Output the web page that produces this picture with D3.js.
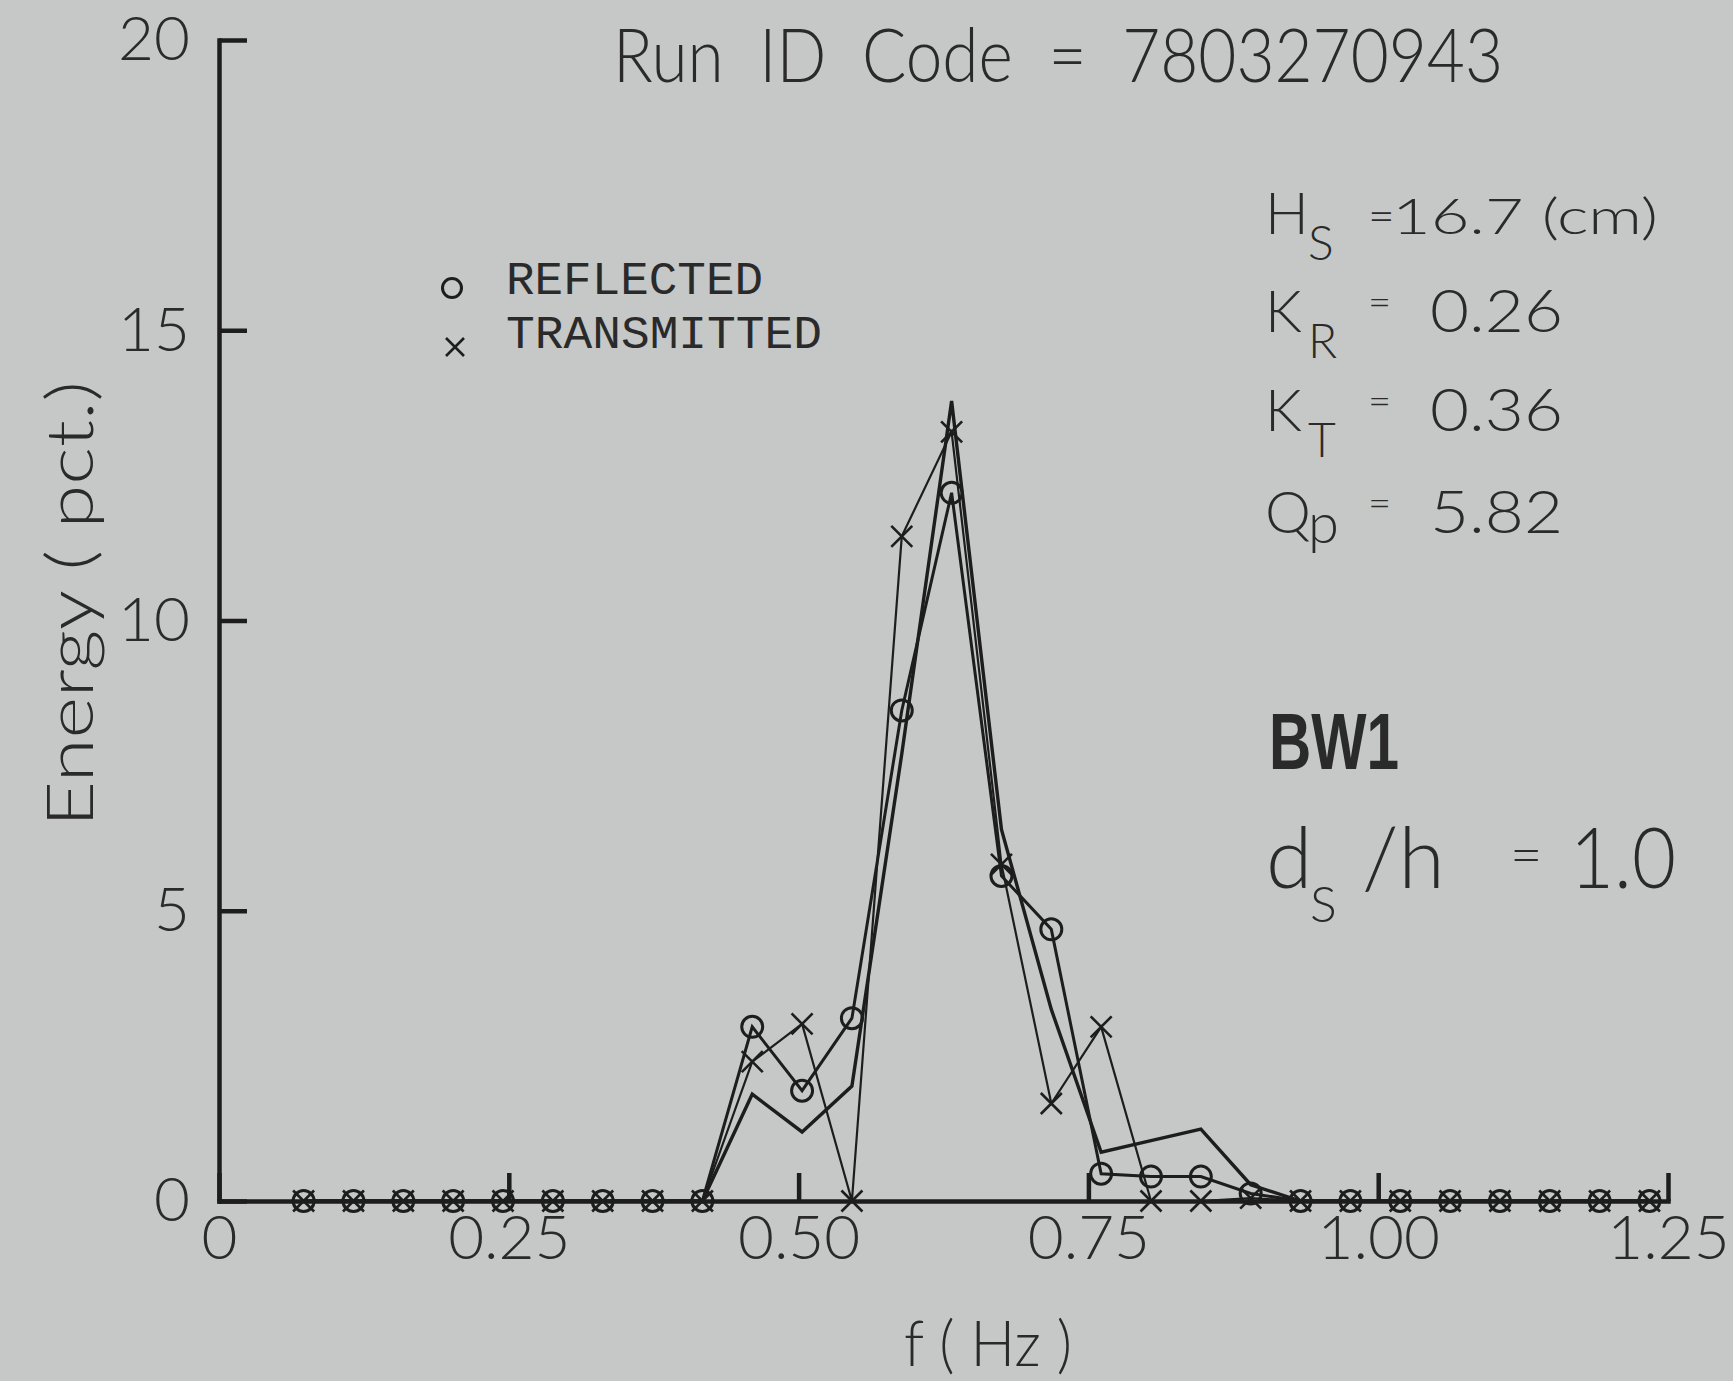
<!DOCTYPE html>
<html>
<head>
<meta charset="utf-8">
<title>Run ID Code 7803270943</title>
<script src="https://cdn.jsdelivr.net/npm/d3@7"></script>
<style>
    body { margin: 0; background: #c5c8c6; }
    svg { display: block; }
    text { fill: #2a2a2a; font-family: Lato, "DejaVu Sans", sans-serif; font-weight: 300; }
    .axis path, .axis line { stroke: #1d1d1d; stroke-width: 4.5; }
    .axis text { font-size: 62px; fill: #2a2a2a; font-family: Lato, "DejaVu Sans", sans-serif; }
    .series { fill: none; stroke: #1d1d1d; stroke-linejoin: miter; }
    .legend text { font-family: "Liberation Mono", "DejaVu Sans Mono", monospace; font-weight: normal; font-size: 46px; }
</style>
</head>
<body>
<script>
var W = 1733, H = 1381;

// spectral frequencies (Hz)
var freq = [0.073, 0.116, 0.159, 0.202, 0.245, 0.288, 0.331, 0.374, 0.417, 0.460,
            0.503, 0.546, 0.589, 0.632, 0.675, 0.718, 0.761, 0.804, 0.847, 0.890,
            0.933, 0.976, 1.019, 1.062, 1.105, 1.148, 1.191, 1.234];

// energy (pct.)
var incident    = [0, 0, 0, 0, 0, 0, 0, 0, 0, 1.84,
                   1.19, 1.98, 7.7, 13.78, 6.4, 3.3, 0.84, 1.04, 1.24, 0.28,
                   0, 0, 0, 0, 0, 0, 0, 0];
var reflected   = [0, 0, 0, 0, 0, 0, 0, 0, 0, 3.0,
                   1.9, 3.15, 8.45, 12.2, 5.6, 4.68, 0.47, 0.42, 0.42, 0.13,
                   0, 0, 0, 0, 0, 0, 0, 0];
var transmitted = [0, 0, 0, 0, 0, 0, 0, 0, 0, 2.4,
                   3.05, 0, 11.45, 13.25, 5.8, 1.68, 3.0, 0, 0, 0.05,
                   0, 0, 0, 0, 0, 0, 0, 0];

var xTicks = [0, 0.25, 0.50, 0.75, 1.00, 1.25];
var xTickLabels = ["0", "0.25", "0.50", "0.75", "1.00", "1.25"];
var yTicks = [0, 5, 10, 15, 20];

var x = d3.scaleLinear().domain([0, 1.25]).range([219, 1668]),
    y = d3.scaleLinear().domain([0, 20]).range([1201, 40]);

var svg = d3.select("body").append("svg")
    .attr("width", W)
    .attr("height", H);

svg.append("rect").attr("width", W).attr("height", H).attr("fill", "#c5c8c6");

// axes, ticks pointing inward
svg.append("g")
    .attr("class", "axis")
    .attr("transform", "translate(0,1201)")
    .call(d3.axisBottom(x)
        .tickValues(xTicks)
        .tickFormat(function (d, i) { return xTickLabels[i]; })
        .tickSizeInner(-28)
        .tickSizeOuter(0)
        .tickPadding(14));

svg.append("g")
    .attr("class", "axis")
    .attr("transform", "translate(219,0)")
    .call(d3.axisLeft(y)
        .tickValues(yTicks)
        .tickFormat(d3.format("d"))
        .tickSizeInner(-28)
        .tickSizeOuter(0)
        .tickPadding(29));

svg.selectAll(".axis .domain").attr("stroke-linecap", "square");

// axis titles
svg.append("text")
    .attr("transform", "translate(93,604) rotate(-90)")
    .attr("text-anchor", "middle")
    .attr("font-size", 66)
    .attr("textLength", 446)
    .attr("lengthAdjust", "spacingAndGlyphs")
    .style("white-space", "pre")
    .text("Energy ( pct.)");

svg.append("text")
    .attr("x", 988)
    .attr("y", 1366)
    .attr("text-anchor", "middle")
    .attr("font-size", 64)
    .attr("textLength", 168)
    .attr("lengthAdjust", "spacingAndGlyphs")
    .style("white-space", "pre")
    .text("f ( Hz )");

// run title
svg.append("text")
    .attr("x", 613)
    .attr("y", 82)
    .attr("font-size", 74)
    .attr("textLength", 890)
    .attr("lengthAdjust", "spacingAndGlyphs")
    .style("white-space", "pre")
    .text("Run  ID  Code  =  7803270943");

// series lines
var line = function (vals) {
    return d3.line()
        .x(function (d, i) { return x(freq[i]); })
        .y(function (d) { return y(d); })(vals);
};

svg.append("path").attr("class", "series").attr("stroke-width", 3.4).attr("d", line(incident));
svg.append("path").attr("class", "series").attr("stroke-width", 3).attr("d", line(reflected));
svg.append("path").attr("class", "series").attr("stroke-width", 2.2).attr("d", line(transmitted));

// markers
var cross = function (s) {
    return "M" + (-s) + "," + (-s) + "L" + s + "," + s + "M" + s + "," + (-s) + "L" + (-s) + "," + s;
};

svg.append("g").selectAll("circle")
    .data(reflected)
    .join("circle")
    .attr("cx", function (d, i) { return x(freq[i]); })
    .attr("cy", function (d) { return y(d); })
    .attr("r", 10.5)
    .attr("fill", "none")
    .attr("stroke", "#1d1d1d")
    .attr("stroke-width", 3);

svg.append("g").selectAll("path")
    .data(transmitted)
    .join("path")
    .attr("transform", function (d, i) { return "translate(" + x(freq[i]) + "," + y(d) + ")"; })
    .attr("d", cross(10.5))
    .attr("fill", "none")
    .attr("stroke", "#1d1d1d")
    .attr("stroke-width", 2.6);

// legend
var legend = svg.append("g").attr("class", "legend");
legend.append("circle")
    .attr("cx", 452).attr("cy", 288).attr("r", 9.5)
    .attr("fill", "none").attr("stroke", "#1d1d1d").attr("stroke-width", 3);
legend.append("path")
    .attr("transform", "translate(455,347)")
    .attr("d", cross(9))
    .attr("fill", "none").attr("stroke", "#1d1d1d").attr("stroke-width", 2.6);
legend.append("text").attr("x", 506).attr("y", 294)
    .attr("textLength", 257).attr("lengthAdjust", "spacingAndGlyphs")
    .text("REFLECTED");
legend.append("text").attr("x", 506).attr("y", 348)
    .attr("textLength", 316).attr("lengthAdjust", "spacingAndGlyphs")
    .text("TRANSMITTED");

// wave parameters
var notes = svg.append("g");
var params = [
    {sym: "H", sub: "S", val: "16.7 (cm)", base: 234},
    {sym: "K", sub: "R", val: "0.26", base: 332},
    {sym: "K", sub: "T", val: "0.36", base: 431},
    {sym: "Q", sub: "p", val: "5.82", base: 533}
];
params.forEach(function (p, i) {
    notes.append("text").attr("x", 1265).attr("y", p.base).attr("font-size", 58).text(p.sym);
    notes.append("text").attr("x", 1308).attr("y", p.base + (p.sub === "p" ? 10 : 26))
        .attr("font-size", p.sub === "p" ? 56 : 48).text(p.sub);
    if (i === 0) {
        notes.append("text").attr("x", 1368).attr("y", p.base - 2).attr("font-size", 46).text("=");
        notes.append("text").attr("x", 1392).attr("y", p.base).attr("font-size", 50)
            .attr("textLength", 266).attr("lengthAdjust", "spacingAndGlyphs")
            .style("white-space", "pre").text(p.val);
    } else {
        notes.append("text").attr("x", 1368).attr("y", p.base - 16).attr("font-size", 40).text("=");
        notes.append("text").attr("x", 1430).attr("y", p.base).attr("font-size", 60)
            .attr("textLength", 133).attr("lengthAdjust", "spacingAndGlyphs").text(p.val);
    }
});

notes.append("text")
    .attr("x", 1269).attr("y", 769)
    .attr("font-size", 80)
    .style("font-family", "'Liberation Sans', Arial, sans-serif")
    .style("font-weight", "bold")
    .attr("textLength", 130).attr("lengthAdjust", "spacingAndGlyphs")
    .text("BW1");

notes.append("text").attr("x", 1266).attr("y", 888).attr("font-size", 84).text("d");
notes.append("text").attr("x", 1310).attr("y", 922).attr("font-size", 50).text("S");
notes.append("text").attr("x", 1362).attr("y", 888).attr("font-size", 84).text("/h");
notes.append("text").attr("x", 1510).attr("y", 874).attr("font-size", 56).text("=");
notes.append("text").attr("x", 1570).attr("y", 888).attr("font-size", 84)
    .attr("textLength", 106).attr("lengthAdjust", "spacingAndGlyphs").text("1.0");
</script>
</body>
</html>
